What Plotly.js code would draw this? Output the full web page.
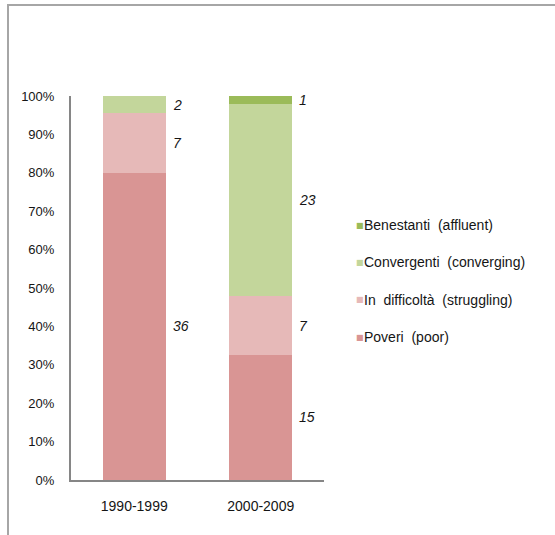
<!DOCTYPE html>
<html>
<head>
<meta charset="utf-8">
<script src="https://cdn.plot.ly/plotly-3.0.1.min.js"></script>
<style>
  html, body { margin: 0; padding: 0; background: #fff; }
  #wrap { position: relative; width: 555px; height: 535px; }
  #chart { position: absolute; left: 0; top: 0; width: 555px; height: 535px; }
  #frame { position: absolute; left: 7px; top: 4px; width: 548px; height: 531px;
           border-top: 2px solid #a6a6a6; border-left: 2px solid #a6a6a6; pointer-events: none; }
</style>
</head>
<body>
<div id="wrap">
  <div id="chart"></div>
  <div id="frame"></div>
</div>
<script>
// ---- data ----
const periods = ['1990-1999', '2000-2009'];
const seriesNames = ['Poveri\u00A0\u00A0(poor)', 'In\u00A0\u00A0difficoltà\u00A0\u00A0(struggling)', 'Convergenti\u00A0\u00A0(converging)', 'Benestanti\u00A0\u00A0(affluent)'];
const poveri = [36, 15];
const inDifficolta = [7, 7];
const convergenti = [2, 23];
const benestanti = [0, 1];
const yTickVals = [0, 10, 20, 30, 40, 50, 60, 70, 80, 90, 100];
const yTickLabels = ['0%', '10%', '20%', '30%', '40%', '50%', '60%', '70%', '80%', '90%', '100%'];

// ---- styling ----
const colors = ['#d99594', '#e6b9b8', '#c3d69b', '#9bbb59'];
const FONT = 'Liberation Sans, Arial, sans-serif';
const TXT = '#151515';
const series = [poveri, inDifficolta, convergenti, benestanti];

const traces = series.map((vals, i) => ({
  type: 'bar',
  x: periods,
  y: vals,
  name: seriesNames[i],
  marker: { color: colors[i], line: { width: 0 } },
  hoverinfo: 'skip',
  showlegend: false
}));

// value labels at segment midpoints (percent of total), right of bars
const annotations = [];
periods.forEach((p, j) => {
  const total = series.reduce((s, arr) => s + arr[j], 0);
  let cum = 0;
  series.forEach((arr, i) => {
    const v = arr[j];
    if (v > 0) {
      const mid = (cum + v / 2) / total * 100;
      annotations.push({
        xref: 'x', yref: 'y', x: j + 0.25, y: mid,
        text: '<i>' + v + '</i>', showarrow: false,
        xanchor: 'left', yanchor: 'middle', xshift: 5,
        font: { family: FONT, size: 14, color: TXT }
      });
    }
    cum += v;
  });
});

// custom legend (reversed order, small square markers)
const legendOrder = [3, 2, 1, 0];
legendOrder.forEach((si, k) => {
  const y = 0.664 - k * 0.0975;
  annotations.push({
    xref: 'paper', yref: 'paper', x: 1.117, y: y,
    text: '<span style="color:' + colors[si] + '">■</span>',
    showarrow: false, xanchor: 'left', yanchor: 'middle',
    font: { family: 'DejaVu Sans', size: 8 }
  });
  annotations.push({
    xref: 'paper', yref: 'paper', x: 1.15, y: y,
    text: seriesNames[si],
    showarrow: false, xanchor: 'left', yanchor: 'middle',
    font: { family: FONT, size: 14, color: TXT }
  });
});

const layout = {
  width: 555, height: 535,
  margin: { l: 71, r: 231, t: 96, b: 55, pad: 0 },
  paper_bgcolor: '#fff', plot_bgcolor: '#fff',
  barmode: 'stack', barnorm: 'percent', bargap: 0.5,
  showlegend: false,
  font: { family: FONT, size: 14, color: TXT },
  xaxis: {
    type: 'category', range: [-0.5, 1.5],
    showline: true, linecolor: '#868686', linewidth: 2,
    ticks: '', showgrid: false, zeroline: false,
    tickfont: { family: FONT, size: 14, color: TXT },
    ticklabelstandoff: 12
  },
  yaxis: {
    range: [0, 100], tickmode: 'array', tickvals: yTickVals, ticktext: yTickLabels,
    showline: true, linecolor: '#868686', linewidth: 2,
    ticks: '', showgrid: false, zeroline: false,
    tickfont: { family: FONT, size: 13, color: TXT },
    ticklabelstandoff: 12
  },
  annotations: annotations
};

Plotly.newPlot('chart', traces, layout, { staticPlot: true, displayModeBar: false });
</script>
</body>
</html>
